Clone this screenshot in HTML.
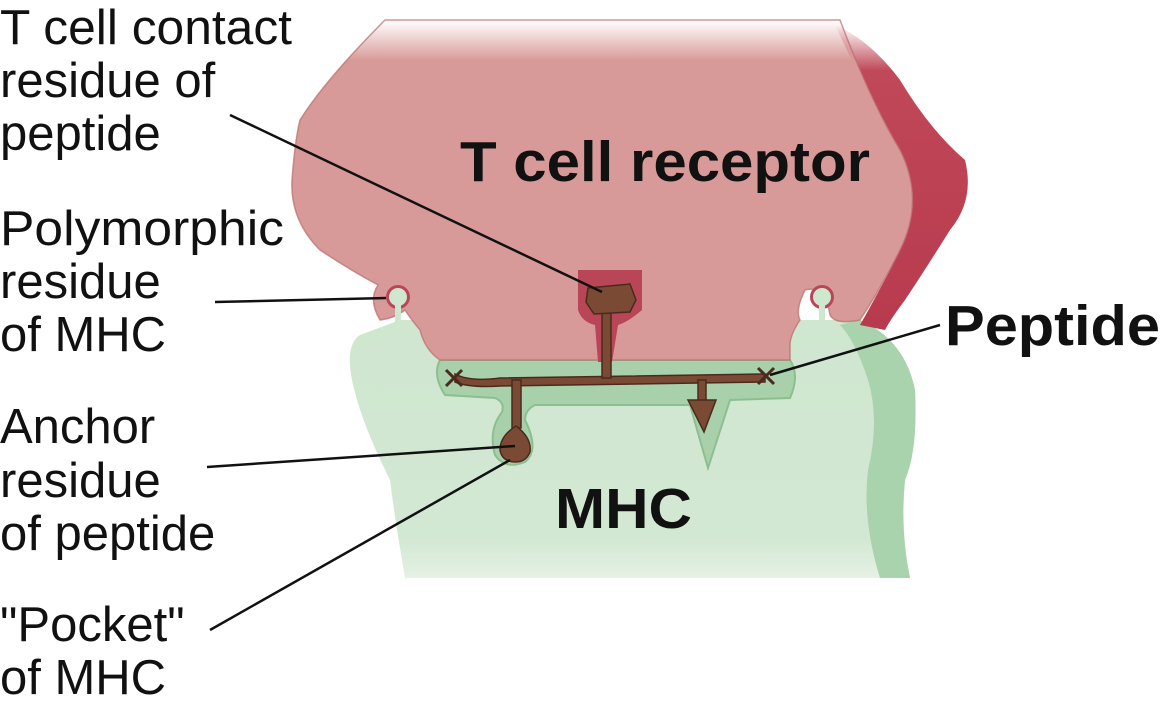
<!DOCTYPE html>
<html><head><meta charset="utf-8"><style>
html,body{margin:0;padding:0;background:#fff;}
svg{display:block;}
text{font-family:"Liberation Sans",Arial,sans-serif;}
</style></head><body>
<svg width="1162" height="709" viewBox="0 0 1162 709" xmlns="http://www.w3.org/2000/svg">
<defs>
<linearGradient id="tfade" x1="0" y1="0" x2="0" y2="1">
<stop offset="0" stop-color="#d89a98" stop-opacity="0"/>
<stop offset="0.12" stop-color="#d89a98" stop-opacity="1"/>
<stop offset="1" stop-color="#d89a98"/>
</linearGradient>
<linearGradient id="rfade" x1="0" y1="0" x2="0" y2="1">
<stop offset="0" stop-color="#c04858" stop-opacity="0"/>
<stop offset="0.15" stop-color="#c04858"/>
<stop offset="1" stop-color="#b83a4e"/>
</linearGradient>
<linearGradient id="gfade" x1="0" y1="0" x2="0" y2="1">
<stop offset="0" stop-color="#cfe6cf"/>
<stop offset="0.85" stop-color="#d3e8d3"/>
<stop offset="1" stop-color="#d3e8d3" stop-opacity="0.6"/>
</linearGradient>
</defs>
<path d="M360,335 Q395,322 400,320 L860,320 Q905,340 915,390 Q918,450 905,480 Q900,530 910,578 L405,578 Q395,520 390,480 Q360,420 352,380 Q345,345 360,335 Z" fill="url(#gfade)"/>
<path d="M860,320 Q905,340 915,390 Q918,450 905,480 Q900,530 910,578 L880,578 Q862,520 868,470 Q880,420 868,380 Q855,340 840,325 Z" fill="#a9d3ac"/>
<path d="M440,360 L790,360 Q800,375 790,398 L730,400 L708,468 L690,405 L535,405 Q525,410 525,420 Q540,450 525,462 Q505,470 495,455 Q488,430 502,412 Q505,402 495,398 L445,395 Q432,375 440,360 Z" fill="#a8d0aa" stroke="#8cbf90" stroke-width="2"/>
<path d="M835,25 Q870,40 900,80 Q930,130 965,160 Q975,200 950,230 Q925,270 905,300 Q890,320 885,330 L860,325 Q880,290 900,250 Q925,200 900,150 Q870,100 835,25 Z" fill="url(#rfade)"/>
<path d="M385,20 L840,20 Q870,100 900,150 Q925,200 900,250 Q880,290 860,320 Q835,325 830,315 Q825,285 805,290 Q795,310 800,320 Q790,335 790,345 L790,360 L440,360 Q425,350 420,330 Q410,318 405,310 Q395,318 380,320 Q368,300 378,285 Q350,270 320,250 Q290,220 292,180 Q295,140 300,120 Q325,80 385,20 Z" fill="url(#tfade)" stroke="#b86c6c" stroke-width="1.5" stroke-opacity="0.7"/>
<path d="M578,270 L642,270 L642,310 Q628,322 618,325 L612,362 L598,362 L595,325 Q582,322 578,310 Z" fill="#b84656"/>
<circle cx="398" cy="297" r="12" fill="#b84656"/>
<circle cx="822" cy="297" r="12" fill="#b84656"/>
<circle cx="398" cy="297" r="9" fill="#cfe6cf"/>
<circle cx="822" cy="297" r="9" fill="#cfe6cf"/>
<rect x="395" y="305" width="6" height="20" fill="#cfe6cf"/>
<rect x="819" y="305" width="6" height="20" fill="#cfe6cf"/>
<g fill="#7a4a35" stroke="#4a2a1c" stroke-width="1.5">
<path d="M455,374 Q470,382 500,378 L765,374 L765,382 L500,386 Q470,388 455,382 Z"/>
<rect x="512" y="380" width="9" height="48"/>
<path d="M516,426 Q532,438 530,452 Q526,462 516,462 Q502,462 500,450 Q500,436 516,426 Z"/>
<rect x="602" y="306" width="9" height="72"/>
<path d="M588,288 L630,284 L636,300 L630,312 L594,314 L586,302 Z"/>
<rect x="698" y="380" width="8" height="22"/>
<path d="M688,400 L716,400 L704,432 Z"/>
</g>
<g stroke="#4a2a1c" stroke-width="3">
<path d="M446,370 L462,386 M462,370 L446,386"/>
<path d="M758,368 L774,384 M774,368 L758,384"/>
</g>
<g stroke="#111" stroke-width="2.5" fill="none">
<line x1="230" y1="115" x2="602" y2="292"/>
<line x1="215" y1="302" x2="386" y2="298"/>
<line x1="207" y1="467" x2="515" y2="446"/>
<line x1="210" y1="630" x2="510" y2="460"/>
<line x1="940" y1="325" x2="770" y2="375"/>
</g>
<g font-size="49" fill="#111">
<text x="0" y="44" textLength="292" lengthAdjust="spacingAndGlyphs">T cell contact</text>
<text x="0" y="97">residue of</text>
<text x="0" y="150">peptide</text>
<text x="0" y="245" textLength="284" lengthAdjust="spacingAndGlyphs">Polymorphic</text>
<text x="0" y="298">residue</text>
<text x="0" y="351">of MHC</text>
<text x="0" y="443">Anchor</text>
<text x="0" y="497">residue</text>
<text x="0" y="550">of peptide</text>
<text x="0" y="641">"Pocket"</text>
<text x="0" y="694">of MHC</text>
</g>
<g font-weight="bold" fill="#111" font-size="57">
<text x="460" y="181" textLength="410" lengthAdjust="spacingAndGlyphs">T cell receptor</text>
<text x="555" y="528" textLength="137" lengthAdjust="spacingAndGlyphs">MHC</text>
<text x="945" y="345" textLength="215" lengthAdjust="spacingAndGlyphs">Peptide</text>
</g>
</svg>
</body></html>
